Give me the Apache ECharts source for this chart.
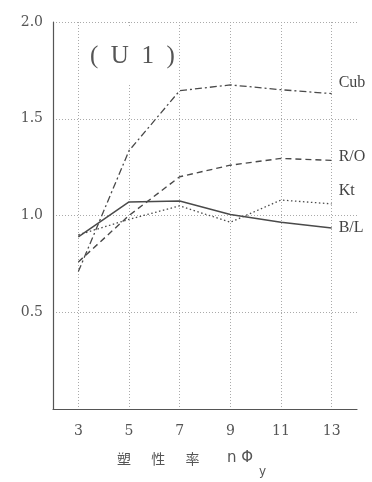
<!DOCTYPE html>
<html><head><meta charset="utf-8">
<script src="https://cdn.jsdelivr.net/npm/echarts@6/dist/echarts.min.js"></script>
<style>html,body{margin:0;padding:0;background:#fff}#c{width:372px;height:482px}</style>
</head><body><div id="c"></div>
<script>
const xCategories = ['2','3','4','5','6','7','8','9','10','11','12','13','14'];
const xTickLabels = ['3','5','7','9','11','13'];
const yTickLabels = ['0.5','1.0','1.5','2.0'];
const seriesNames = ['Cub','R/O','Kt','B/L'];
const cubValues = [0.71, 1.335, 1.645, 1.675, 1.65, 1.63];
const roValues  = [0.76, 1.00, 1.20, 1.26, 1.295, 1.285];
const ktValues  = [0.90, 0.98, 1.05, 0.965, 1.08, 1.06];
const blValues  = [0.89, 1.07, 1.075, 1.005, 0.965, 0.935];
const chartTitle = '(  U  1  )';
const axisTitleMain = '塑　  性　  率';
const axisTitleVar = 'n Φ';
const axisTitleSub = 'y';

const pairs = vals => xTickLabels.map((x, i) => [x, vals[i]]);
const lineColor = '#4a4a4a';
const labelStyle = (dy) => ({
  show: true, formatter: '{a}', distance: 7, offset: [0, dy],
  fontFamily: 'Liberation Serif', fontSize: 16, color: '#444'
});
const mk = (name, vals, type, width, dy) => ({
  name, type: 'line', data: pairs(vals), symbol: 'none',
  lineStyle: { color: lineColor, width, type },
  endLabel: labelStyle(dy)
});

const chart = echarts.init(document.getElementById('c'));
chart.setOption({
  animation: false,
  backgroundColor: '#fff',
  grid: { left: 53, right: 15, top: 22, bottom: 73 },
  xAxis: {
    type: 'category', data: xCategories, boundaryGap: false,
    axisLine: { show: true, lineStyle: { color: '#555', width: 1.2 } },
    axisTick: { show: false },
    axisLabel: {
      interval: (i, v) => xTickLabels.includes(v),
      margin: 15, fontFamily: 'DejaVu Serif', fontSize: 14, color: '#555'
    },
    splitLine: {
      show: true, interval: (i, v) => xTickLabels.includes(v),
      lineStyle: { color: '#aaa', type: [1, 2], width: 1 }
    }
  },
  yAxis: {
    type: 'value', min: 0, max: 2, interval: 0.5,
    axisLine: { show: true, lineStyle: { color: '#555', width: 1.2 } },
    axisTick: { show: false },
    axisLabel: {
      formatter: v => { const s = v.toFixed(1); return yTickLabels.includes(s) ? s : ''; },
      margin: 10, padding: [0, 0, 8, 0],
      fontFamily: 'DejaVu Serif', fontSize: 14, color: '#555'
    },
    splitLine: { show: true, lineStyle: { color: '#aaa', type: [1, 2], width: 1 } }
  },
  series: [
    mk(seriesNames[0], cubValues, [7, 3, 2, 3], 1.3, -11),
    mk(seriesNames[1], roValues, [6, 4], 1.4, -4),
    mk(seriesNames[2], ktValues, [1.5, 2.5], 1.3, -13),
    mk(seriesNames[3], blValues, 'solid', 1.5, 0)
  ],
  graphic: [
    { type: 'text', left: 86, top: 26, z: 100,
      style: { text: chartTitle, fontFamily: 'Liberation Serif', fontSize: 25, fill: '#555',
               backgroundColor: '#fff', padding: [18, 4, 14, 4] } },
    { type: 'text', left: 117, top: 452,
      style: { text: axisTitleMain, fontFamily: 'Noto Sans CJK JP', fontSize: 14, fill: '#555' } },
    { type: 'text', left: 227, top: 451,
      style: { text: axisTitleVar, fontFamily: 'DejaVu Sans', fontSize: 15, fill: '#555' } },
    { type: 'text', left: 259, top: 466,
      style: { text: axisTitleSub, fontFamily: 'DejaVu Sans', fontSize: 12, fill: '#555' } }
  ]
});
</script></body></html>
